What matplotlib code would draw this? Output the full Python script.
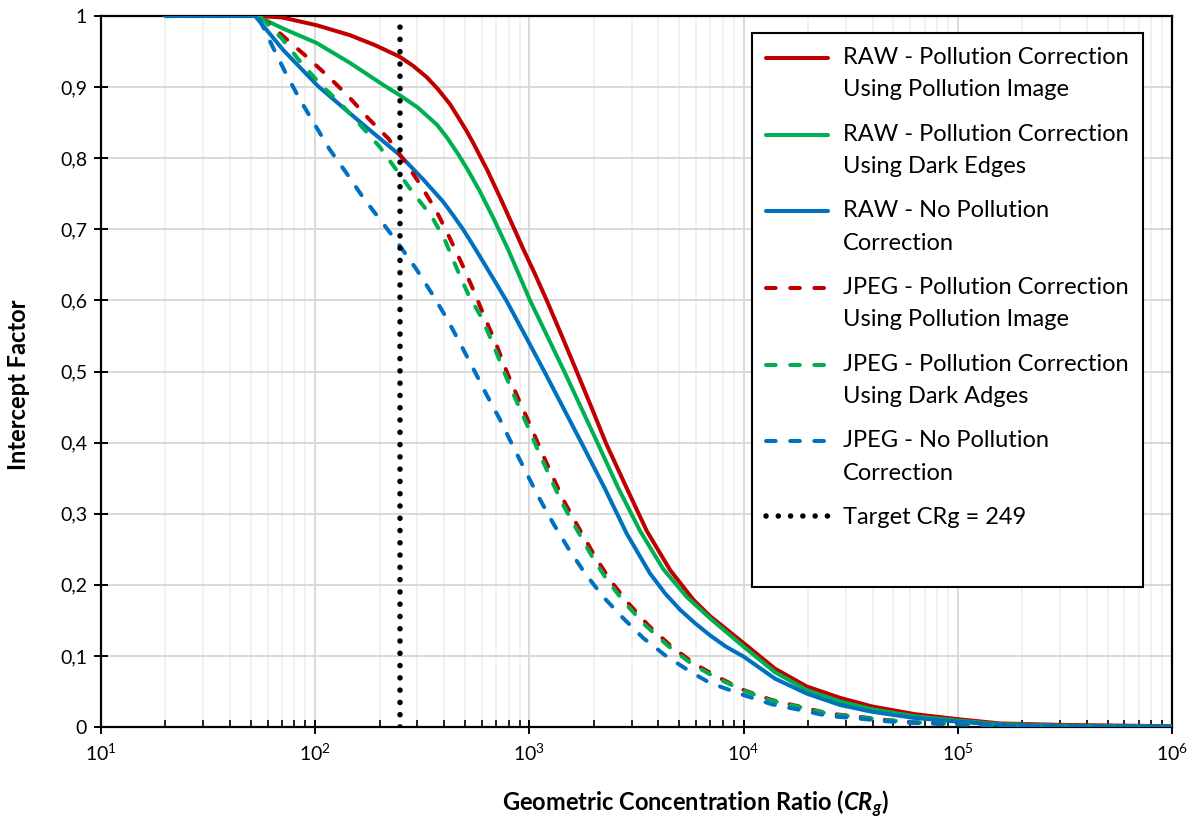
import numpy as np
import matplotlib
matplotlib.use('Agg')
import matplotlib.pyplot as plt
from matplotlib.lines import Line2D
from matplotlib.legend_handler import HandlerLine2D
from matplotlib.ticker import FixedLocator, LogLocator, NullFormatter

plt.rcParams['font.family'] = ['Lato', 'DejaVu Sans']
plt.rcParams['mathtext.fontset'] = 'custom'
plt.rcParams['mathtext.rm'] = 'Lato'
plt.rcParams['mathtext.it'] = 'Lato:italic'
plt.rcParams['mathtext.bf'] = 'Lato:bold'
plt.rcParams['mathtext.bfit'] = 'Lato:bold:italic'

# RAW - pollution correction using pollution image
raw_img_x = [20, 53.5, 70, 101.6, 145.4, 190.2, 247, 286.2, 331.6, 374.4, 425.9, 464.2, 509.7,
             545.5, 588, 634.1, 683.4, 736.9, 794.5, 863.3, 936.5, 1062, 1205, 1404, 1663, 1940,
             2279, 2846, 3528, 4533, 5825, 6967, 10000, 14020, 19710, 28190, 39640, 63130,
             100000, 157400, 300000, 1000000]
raw_img_y = [1, 1, 0.998, 0.987, 0.973, 0.959, 0.943, 0.930, 0.914, 0.897, 0.876, 0.858, 0.838,
             0.822, 0.803, 0.784, 0.763, 0.742, 0.720, 0.696, 0.672, 0.637, 0.600, 0.553, 0.500,
             0.451, 0.399, 0.336, 0.276, 0.221, 0.179, 0.156, 0.118, 0.082, 0.057, 0.041, 0.029,
             0.018, 0.011, 0.005, 0.003, 0.001]

# RAW - pollution correction using dark edges
raw_edge_x = [20, 53.5, 70, 101.6, 145.4, 207.9, 247, 302, 370.4, 412.4, 464.2, 516.9, 588,
              683.4, 797, 1007, 1455, 2084, 2600, 3283, 4218, 5425, 6967, 10000, 14020, 19710,
              28190, 39640, 63130, 100000, 157400, 300000, 1000000]
raw_edge_y = [1, 1, 0.983, 0.962, 0.934, 0.903, 0.889, 0.871, 0.847, 0.829, 0.806, 0.783, 0.753,
              0.714, 0.671, 0.600, 0.500, 0.399, 0.336, 0.276, 0.222, 0.183, 0.153, 0.113, 0.077,
              0.052, 0.036, 0.025, 0.015, 0.009, 0.004, 0.002, 0.0005]

# RAW - no pollution correction
raw_none_x = [20, 52.4, 71.0, 103.4, 161.9, 247, 319.6, 395.1, 439.8, 489.8, 539.5, 600.8,
              683.4, 783.4, 953.9, 1179, 1755, 2254, 2846, 3656, 4297, 5048, 5932, 6967, 8276,
              10000, 14020, 19710, 28190, 39640, 63130, 100000, 157400, 300000, 1000000]
raw_none_y = [1, 1, 0.952, 0.901, 0.851, 0.805, 0.770, 0.739, 0.720, 0.700, 0.680, 0.657,
              0.629, 0.599, 0.551, 0.499, 0.399, 0.335, 0.272, 0.216, 0.188, 0.165, 0.146, 0.129,
              0.113, 0.099, 0.068, 0.047, 0.031, 0.0215, 0.0126, 0.0075, 0.003, 0.0015, 0.0005]

# JPEG - pollution correction using pollution image
jpg_img_x = [20, 55, 70, 91, 115, 143, 177, 219, 267, 314, 369, 426, 483, 547, 621, 703, 783,
             887, 1007, 1140, 1294, 1466, 1722, 2023, 2377, 2898, 3589, 4531, 5823, 7482, 10000,
             13520, 18330, 24850, 34270, 46560, 63100, 85500, 200000, 1000000]
jpg_img_y = [1, 1, 0.973, 0.943, 0.915, 0.887, 0.856, 0.828, 0.792, 0.760, 0.725, 0.687, 0.652,
             0.615, 0.575, 0.537, 0.500, 0.462, 0.425, 0.387, 0.350, 0.315, 0.277, 0.240, 0.207,
             0.174, 0.143, 0.115, 0.090, 0.071, 0.052, 0.038, 0.0286, 0.019, 0.0145, 0.0098,
             0.0066, 0.005, 0.002, 0.0]

# JPEG - pollution correction using dark edges
jpg_edge_x = [20, 55, 70, 85, 105, 131, 162, 200, 240, 287, 350, 403, 458, 519, 600, 680, 760,
              860, 975, 1105, 1255, 1420, 1670, 1960, 2300, 2800, 3480, 4400, 5650, 7250, 10000,
              13520, 18330, 24850, 34270, 46560, 63100, 85500, 200000, 1000000]
jpg_edge_y = [1, 1, 0.968, 0.936, 0.905, 0.877, 0.847, 0.816, 0.783, 0.751, 0.718, 0.685, 0.645,
              0.608, 0.575, 0.537, 0.500, 0.462, 0.425, 0.387, 0.350, 0.315, 0.277, 0.240, 0.207,
              0.174, 0.143, 0.115, 0.090, 0.071, 0.051, 0.037, 0.028, 0.0185, 0.014, 0.0095,
              0.0064, 0.0048, 0.002, 0.0]

# JPEG - no pollution correction
jpg_none_x = [20, 54, 63.7, 73.6, 85, 99.7, 117, 140, 168, 204, 244, 295, 350, 411, 474, 547,
              632, 730, 841, 970, 1101, 1294, 1521, 1820, 2213, 2742, 3405, 4295, 5623, 6966,
              10000, 13520, 18330, 24850, 34270, 46560, 63100, 200000, 1000000]
jpg_none_y = [1, 1, 0.955, 0.917, 0.882, 0.847, 0.812, 0.779, 0.744, 0.711, 0.680, 0.645, 0.610,
              0.575, 0.540, 0.504, 0.467, 0.432, 0.394, 0.357, 0.324, 0.286, 0.251, 0.216, 0.183,
              0.153, 0.125, 0.101, 0.078, 0.062, 0.045, 0.032, 0.024, 0.0155, 0.012, 0.008,
              0.0056, 0.001, 0.0]

target_crg = 249

series_labels = [
    'RAW - Pollution Correction\nUsing Pollution Image',
    'RAW - Pollution Correction\nUsing Dark Edges',
    'RAW - No Pollution\nCorrection',
    'JPEG - Pollution Correction\nUsing Pollution Image',
    'JPEG - Pollution Correction\nUsing Dark Adges',
    'JPEG - No Pollution\nCorrection',
]
target_label = 'Target CRg = 249'

y_ticks = [0, 0.1, 0.2, 0.3, 0.4, 0.5, 0.6, 0.7, 0.8, 0.9, 1.0]
y_tick_labels = ['0', '0,1', '0,2', '0,3', '0,4', '0,5', '0,6', '0,7', '0,8', '0,9', '1']
x_ticks = [1e1, 1e2, 1e3, 1e4, 1e5, 1e6]
x_tick_labels = [r'$10^{1}$', r'$10^{2}$', r'$10^{3}$', r'$10^{4}$', r'$10^{5}$', r'$10^{6}$']

RED = '#C00000'
GREEN = '#00B050'
BLUE = '#0070C0'
LW = 2.9
DASH = (2.4, 3.6)
LEG_FS = 17


class TopHandler(HandlerLine2D):
    # put the legend line next to the first text line instead of the middle
    def __init__(self, shift=0.0, **kw):
        super().__init__(**kw)
        self.shift = shift

    def create_artists(self, legend, orig_handle, xdescent, ydescent, width, height, fontsize, trans):
        arts = super().create_artists(legend, orig_handle, xdescent, ydescent, width, height, fontsize, trans)
        for a in arts:
            a.set_ydata(np.asarray(a.get_ydata()) + self.shift * fontsize)
        return arts


fig = plt.figure(figsize=(11.98, 8.19), dpi=100)
ax = fig.add_axes([101 / 1198, 1 - 727 / 819, (1172 - 101) / 1198, (727 - 16) / 819])

data = [
    (raw_img_x, raw_img_y, RED, '-'),
    (raw_edge_x, raw_edge_y, GREEN, '-'),
    (raw_none_x, raw_none_y, BLUE, '-'),
    (jpg_img_x, jpg_img_y, RED, '--'),
    (jpg_edge_x, jpg_edge_y, GREEN, '--'),
    (jpg_none_x, jpg_none_y, BLUE, '--'),
]
handles = []
for (xs, ys, c, ls), lab in zip(data, series_labels):
    if ls == '-':
        ln, = ax.plot(xs, ys, color=c, lw=LW, solid_capstyle='round', solid_joinstyle='round',
                      label=lab, zorder=3)
    else:
        ln, = ax.plot(xs, ys, color=c, lw=LW, dashes=DASH, dash_capstyle='round',
                      dash_joinstyle='round', label=lab, zorder=3)
    handles.append(ln)

vl, = ax.plot([target_crg, target_crg], [0, 1], color='black', lw=4.0,
              dashes=(0.01, 2.2), dash_capstyle='round', zorder=4, label=target_label)

ax.set_xscale('log')
ax.set_xlim(10, 1e6)
ax.set_ylim(0, 1)

ax.xaxis.set_major_locator(FixedLocator(x_ticks))
ax.set_xticklabels(x_tick_labels)
ax.xaxis.set_minor_locator(LogLocator(base=10, subs=np.arange(2, 10)))
ax.xaxis.set_minor_formatter(NullFormatter())
ax.set_yticks(y_ticks)
ax.set_yticklabels(y_tick_labels)

ax.grid(True, which='major', axis='y', color='#D9D9D9', lw=1.4, zorder=0)
ax.grid(True, which='major', axis='x', color='#D9D9D9', lw=1.4, zorder=0)
ax.grid(True, which='minor', axis='x', color='#EFEFEF', lw=1.2, zorder=0)
ax.set_axisbelow(True)

for sp in ax.spines.values():
    sp.set_linewidth(1.6)
    sp.set_color('black')

ax.tick_params(axis='x', which='major', direction='inout', length=10, width=1.4,
               labelsize=14, pad=6, top=False)
ax.tick_params(axis='x', which='minor', direction='in', length=5, width=1.2, top=False)
ax.tick_params(axis='y', which='major', direction='inout', length=10, width=1.4,
               labelsize=14, pad=5, right=False)

ax.set_ylabel('Intercept Factor', fontsize=17, fontweight='bold')
ax.set_xlabel(r'Geometric Concentration Ratio ($\mathbfit{CR}_{\mathbfit{g}}$)',
              fontsize=17, fontweight='bold')
# label positions as placed in the original chart
ax.yaxis.set_label_coords(-0.0663, 0.481)
ax.xaxis.set_label_coords(0.5546, -0.086)

blank = Line2D([], [], color='none')
leg_handles = handles + [vl, blank]
leg_labels = series_labels + [target_label, ' ']
hmap = {h: TopHandler(shift=0.68) for h in handles}
leg = ax.legend(leg_handles, leg_labels, loc='upper left',
                bbox_to_anchor=((752 - 101) / 1071, (727 - 33) / 711),
                fontsize=LEG_FS, frameon=True, fancybox=False, edgecolor='black',
                framealpha=1, borderpad=0.6, handlelength=2.6, handletextpad=0.64,
                labelspacing=1.0, handler_map=hmap, borderaxespad=0)
leg.get_frame().set_linewidth(1.5)
for t in leg.get_texts():
    t.set_linespacing(1.65)

fig.savefig('out.png', dpi=100)
